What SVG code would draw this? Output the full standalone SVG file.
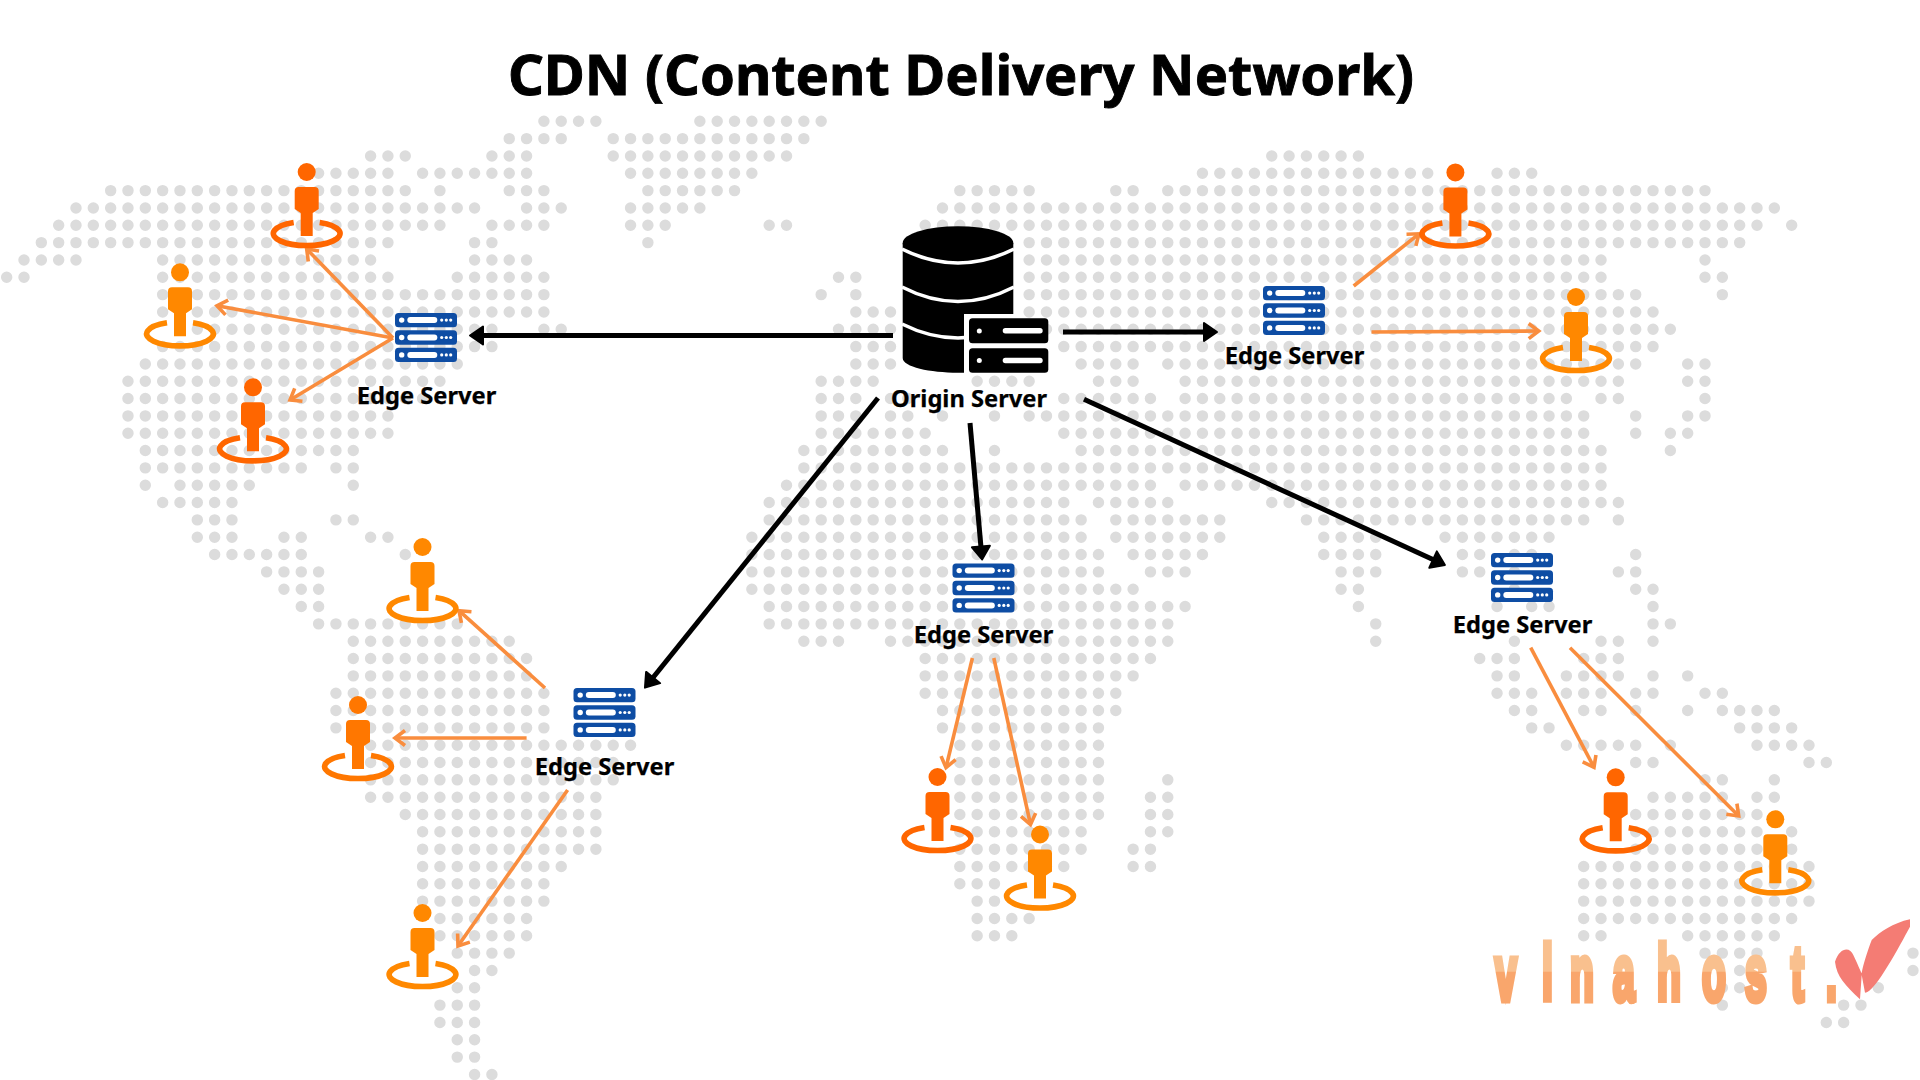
<svg xmlns="http://www.w3.org/2000/svg" width="1920" height="1080" viewBox="0 0 1920 1080">
<style>
text{font-family:"Noto Sans","Open Sans","Liberation Sans",sans-serif;font-weight:700;fill:#000}
.title{font-size:56px;text-anchor:middle;stroke:#000;stroke-width:.9px}
.label{font-size:23.7px;text-anchor:middle;stroke:#000;stroke-width:.25px}
.dots{fill:none;stroke:#dcdcdc;stroke-width:.66;stroke-linecap:round;stroke-dasharray:0 1}
.blk{fill:none;stroke:#000;stroke-width:5;marker-end:url(#ah)}
.org{fill:none;stroke:#f98d3e;stroke-width:3.6;marker-end:url(#oh)}
.dk{color:#ff6600}
.lt{color:#ff8800}
.md{color:#ff7700}
.bar{fill:#0e4da4}
.w{fill:#fff}
</style>
<defs>
<marker id="ah" markerUnits="userSpaceOnUse" markerWidth="20" markerHeight="24" refX="2" refY="12" orient="auto" overflow="visible"><path d="M1 3L14 12L1 21Z" fill="#000" stroke="#000" stroke-width="2" stroke-linejoin="round"/></marker>
<marker id="oh" markerUnits="userSpaceOnUse" markerWidth="18" markerHeight="22" refX="14" refY="11" orient="auto" overflow="visible"><path d="M4 3.5L14 11L4 18.5" fill="none" stroke="#f98d3e" stroke-width="3.6"/></marker>
<g id="srvbar"><rect class="bar" x="-31" y="-7.2" width="62" height="14.4" rx="3.5"/><circle class="w" cx="-24.3" r="2.7"/><rect class="w" x="-18.7" y="-3" width="30" height="6" rx="3"/><circle class="w" cx="15.7" r="1.6"/><circle class="w" cx="20.3" r="1.6"/><circle class="w" cx="24.7" r="1.6"/></g>
<g id="srv"><use href="#srvbar" y="-17.4"/><use href="#srvbar"/><use href="#srvbar" y="17.4"/></g>
<g id="person"><circle r="9" fill="currentColor"/><path d="M-8 15H8Q12 15 12 19V37L6 41V64H-6V41L-12 37V19Q-12 15-8 15Z" fill="currentColor"/><path d="M-13 50.5A33.4 12 0 1 0 13 50.5" fill="none" stroke="currentColor" stroke-width="5.6"/></g>
<linearGradient id="lg" gradientUnits="userSpaceOnUse" x1="0" y1="950" x2="0" y2="1003"><stop offset=".4" stop-color="#f9c08e"/><stop offset=".42" stop-color="#f9a66c"/></linearGradient>
</defs>
<rect width="1920" height="1080" fill="#fff"/>
<g id="world-map" transform="translate(6.67 121.3) scale(17.33)">
<path class="dots" d="M31 0H34.1M40 0H47.1M29 1H32.1M35 1H46.1M21 2H23.1M28 2H30.1M35 2H45.1M73 2H78.1M18 3H22.1M24 3H30.1M36 3H43.1M69 3H82.1M86 3H88.1M6 4H23.1M25 4h.1M29 4H31.1M37 4H42.1M55 4H59.1M64 4H65.1M67 4H98.1M4 5H27.1M30 5H32.1M36 5H40.1M54 5H102.1M3 6H25.1M28 6H31.1M36 6H38.1M44 6H45.1M53 6H101.1M103 6h.1M2 7H22.1M27 7H28.1M37 7h.1M59 7H100.1M1 8H4.1M9 8H21.1M27 8H30.1M59 8H92.1M98 8h.1M0 9H1.1M9 9H22.1M26 9H31.1M48 9H49.1M59 9H92.1M98 9H99.1M9 10H31.1M47 10h.1M49 10h.1M59 10H94.1M99 10h.1M9 11H31.1M49 11H51.1M59 11H95.1M10 12H28.1M31 12H32.1M48 12H51.1M59 12H96.1M9 13H28.1M49 13H51.1M61 13H95.1M8 14H26.1M49 14H51.1M62 14H65.1M67 14H94.1M97 14H98.1M7 15H25.1M47 15H50.1M56 15H59.1M63 15H65.1M68 15H93.1M97 15H98.1M7 16H24.1M47 16H49.1M51 16H52.1M61 16H66.1M68 16H90.1M92 16H93.1M98 16h.1M7 17H22.1M47 17H49.1M51 17H52.1M54 17h.1M57 17h.1M59 17H91.1M94 17h.1M97 17H98.1M7 18H22.1M47 18H53.1M61 18H91.1M94 18h.1M96 18H97.1M8 19H20.1M46 19H54.1M57 19h.1M62 19H92.1M96 19h.1M8 20H17.1M19 20H20.1M46 20H92.1M8 21h.1M10 21H14.1M20 21h.1M45 21H66.1M68 21H92.1M9 22H13.1M44 22H61.1M63 22H67.1M73 22H93.1M11 23H13.1M19 23H20.1M44 23H62.1M64 23H70.1M75 23H91.1M93 23h.1M11 24H13.1M16 24H17.1M21 24H22.1M43 24H62.1M64 24H70.1M76 24H79.1M83 24H89.1M12 25H17.1M23 25h.1M43 25H63.1M65 25H69.1M76 25H79.1M84 25H85.1M87 25H88.1M94 25h.1M15 26H18.1M43 26H63.1M66 26H68.1M77 26H79.1M84 26H85.1M87 26h.1M93 26H94.1M16 27H18.1M43 27H65.1M77 27H78.1M87 27h.1M94 27H95.1M17 28H18.1M44 28H68.1M78 28h.1M86 28h.1M88 28H89.1M95 28h.1M18 29H26.1M44 29H67.1M79 29h.1M95 29H96.1M20 30H29.1M46 30H48.1M51 30H67.1M79 30h.1M87 30h.1M92 30H93.1M95 30h.1M20 31H30.1M53 31H66.1M85 31H87.1M91 31H93.1M20 32H30.1M53 32H65.1M86 32H87.1M90 32H93.1M95 32h.1M97 32h.1M19 33H31.1M53 33H64.1M86 33H88.1M90 33H92.1M94 33H95.1M98 33H99.1M19 34H31.1M54 34H64.1M87 34H88.1M91 34H92.1M94 34h.1M97 34h.1M99 34H102.1M19 35H31.1M54 35H63.1M88 35H89.1M100 35H103.1M21 36H36.1M55 36H63.1M90 36H94.1M96 36h.1M101 36H104.1M21 37H35.1M55 37H63.1M94 37H95.1M104 37H105.1M21 38H35.1M55 38H63.1M67 38h.1M98 38H99.1M102 38h.1M21 39H34.1M55 39H63.1M66 39H67.1M95 39H99.1M101 39H102.1M23 40H34.1M55 40H63.1M66 40H67.1M94 40H101.1M24 41H34.1M55 41H62.1M66 41H67.1M94 41H101.1M103 41h.1M24 42H34.1M55 42H62.1M65 42H66.1M94 42H103.1M24 43H32.1M55 43H61.1M65 43H66.1M91 43H104.1M24 44H31.1M55 44H57.1M91 44H104.1M24 45H31.1M56 45H57.1M91 45H104.1M25 46H30.1M56 46H59.1M91 46H103.1M25 47H30.1M56 47H58.1M91 47H92.1M97 47H102.1M26 48H29.1M98 48H101.1M110 48h.1M27 49H28.1M100 49h.1M110 49h.1M26 50H27.1M99 50H100.1M108 50h.1M25 51H27.1M99 51h.1M106 51H107.1M25 52H27.1M105 52H106.1M26 53H27.1M26 54H27.1M27 55H28.1"/>
</g>
<text class="title" x="961" y="95">CDN (Content Delivery Network)</text>
<g id="connectors">
<path class="blk" d="M893 335.5H482"/>
<path class="blk" d="M1063 332H1205"/>
<path class="blk" d="M878 398L652.5 678.3"/>
<path class="blk" d="M970 423L981 547.5"/>
<path class="blk" d="M1084 399.3L1434 560"/>
<path class="org" d="M393 338L306.7 249"/>
<path class="org" d="M393 338L217 305.7"/>
<path class="org" d="M393 338L290 400"/>
<path class="org" d="M1353.7 286L1419 233.8"/>
<path class="org" d="M1371.5 332L1538.7 331"/>
<path class="org" d="M545 688L459 610.7"/>
<path class="org" d="M526.6 738H395"/>
<path class="org" d="M567.6 790L458 946"/>
<path class="org" d="M972.4 658L946 767.6"/>
<path class="org" d="M993.8 658L1030.5 824.5"/>
<path class="org" d="M1530.7 647.7L1594 767.3"/>
<path class="org" d="M1570 647.7L1738.7 816"/>
</g>
<g id="origin-server">
<ellipse cx="958" cy="243" rx="55.3" ry="16.7" fill="#000"/>
<path d="M902.7 243V358C902.7 367 930 372.7 958 372.7H1013.3V243Z" fill="#000"/>
<path d="M902 249Q958 277 1014 249M902 287Q958 316 1014 287M902 324Q958 352 1014 324" fill="none" stroke="#fff" stroke-width="3.6"/>
<rect class="w" x="964" y="314" width="50" height="60"/>
<rect x="969" y="318.3" width="79.3" height="25" rx="3.5" fill="#000"/>
<rect x="969" y="348.3" width="79.3" height="24.4" rx="3.5" fill="#000"/>
<circle class="w" cx="979.3" cy="331" r="2.5"/>
<circle class="w" cx="979.3" cy="360.5" r="2.5"/>
<rect class="w" x="1002.7" y="328" width="40" height="5.4" rx="2.7"/>
<rect class="w" x="1002.7" y="357.8" width="40" height="5.4" rx="2.7"/>
<text class="label" x="969" y="406.7">Origin Server</text>
</g>
<g id="edge-1"><use href="#srv" x="426" y="337.5"/><text class="label" x="426.5" y="404">Edge Server</text></g>
<g id="edge-2"><use href="#srv" x="1294" y="310.5"/><text class="label" x="1294.5" y="364">Edge Server</text></g>
<g id="edge-3"><use href="#srv" x="604.5" y="712.5"/><text class="label" x="604.5" y="774.5">Edge Server</text></g>
<g id="edge-4"><use href="#srv" x="983.5" y="588"/><text class="label" x="983.5" y="643">Edge Server</text></g>
<g id="edge-5"><use href="#srv" x="1522" y="577.5"/><text class="label" x="1522.5" y="632.7">Edge Server</text></g>
<g id="user-1" class="dk"><use href="#person" x="306.7" y="172"/></g>
<g id="user-2" class="lt"><use href="#person" x="180" y="272.3"/></g>
<g id="user-3" class="dk"><use href="#person" x="253" y="387.3"/></g>
<g id="user-4" class="lt"><use href="#person" x="422.5" y="547"/></g>
<g id="user-5" class="md"><use href="#person" x="358" y="705"/></g>
<g id="user-6" class="lt"><use href="#person" x="422.5" y="913"/></g>
<g id="user-7" class="dk"><use href="#person" x="937.5" y="777"/></g>
<g id="user-8" class="lt"><use href="#person" x="1040" y="834.5"/></g>
<g id="user-9" class="dk"><use href="#person" x="1615.7" y="777.3"/></g>
<g id="user-10" class="lt"><use href="#person" x="1775.3" y="819.3"/></g>
<g id="user-11" class="dk"><use href="#person" x="1455.4" y="172.4"/></g>
<g id="user-12" class="lt"><use href="#person" x="1576" y="297"/></g>
<g id="logo">
<text transform="scale(.5 1)" y="1000" style="font-family:'Liberation Sans',sans-serif;font-size:78px;fill:url(#lg);stroke:url(#lg);stroke-width:7px" x="2990 3084 3140 3226 3314 3404 3490 3582 3652">vinahost.</text>
<path d="M1835 961.7C1840 946.7 1850 946.7 1853.3 955C1858 965 1860 970 1861.7 973.3C1864 960 1871.7 940 1871.7 940C1880 932 1893 923 1910 919.3V926.7C1900 945 1875 992.7 1865 992.7L1861.7 975L1860 999.3C1845 985 1836.7 976.7 1835 961.7Z" fill="#f47c74"/>
</g>
</svg>
